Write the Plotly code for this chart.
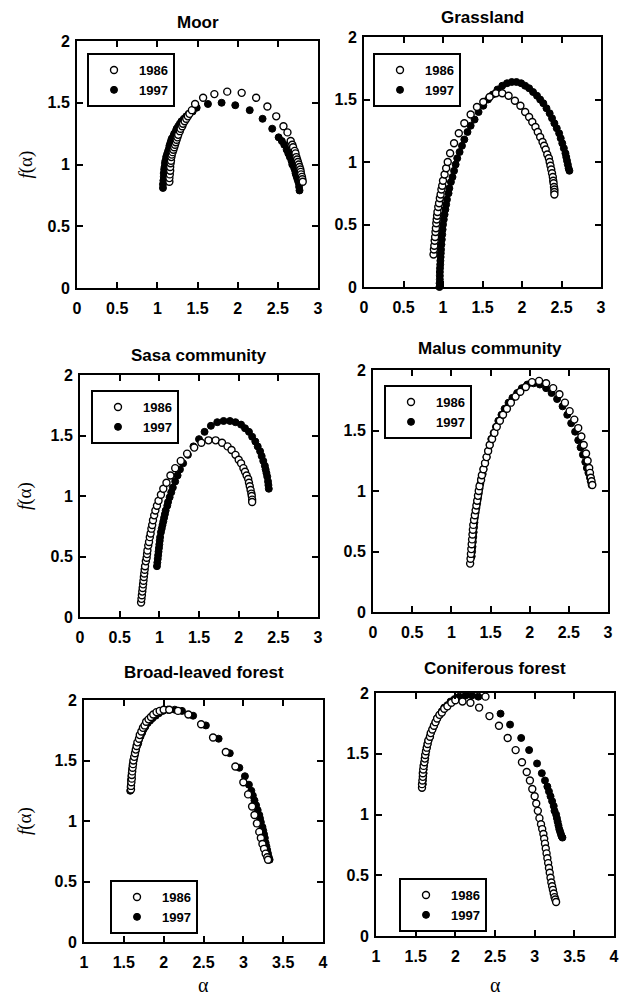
import plotly.graph_objects as go

W, H = 622, 995

# ---------------- data ----------------
titles = ["Moor", "Grassland", "Sasa community", "Malus community",
          "Broad-leaved forest", "Coniferous forest"]
series_names = ["1986", "1997"]
y_label = "<i>f</i>(α)"
x_label = "α"

ytick_vals = [0, 0.5, 1, 1.5, 2]
ytick_text = ["0", "0.5", "1", "1.5", "2"]
xtick_vals_a = [0, 0.5, 1, 1.5, 2, 2.5, 3]
xtick_text_a = ["0", "0.5", "1", "1.5", "2", "2.5", "3"]
xtick_vals_b = [1, 1.5, 2, 2.5, 3, 3.5, 4]
xtick_text_b = ["1", "1.5", "2", "2.5", "3", "3.5", "4"]

moor_a86 = [1.15, 1.15, 1.155, 1.16, 1.16, 1.165, 1.17, 1.175, 1.18, 1.19,
            1.20, 1.21, 1.22, 1.23, 1.24, 1.25, 1.26, 1.28, 1.29, 1.31,
            1.32, 1.34, 1.36, 1.38, 1.40, 1.43, 1.47, 1.57, 1.71, 1.87,
            2.05, 2.23, 2.37, 2.48, 2.57, 2.62, 2.66, 2.68, 2.69, 2.71,
            2.72, 2.73, 2.74, 2.75, 2.76, 2.77, 2.78, 2.785, 2.79, 2.80,
            2.805, 2.81]
moor_f86 = [0.86, 0.89, 0.92, 0.95, 0.98, 1.01, 1.03, 1.06, 1.08, 1.10,
            1.12, 1.14, 1.16, 1.18, 1.20, 1.22, 1.24, 1.27, 1.29, 1.31,
            1.33, 1.35, 1.37, 1.39, 1.41, 1.44, 1.49, 1.54, 1.57, 1.59,
            1.58, 1.54, 1.47, 1.39, 1.31, 1.26, 1.19, 1.16, 1.14, 1.11,
            1.09, 1.06, 1.04, 1.02, 1.00, 0.98, 0.96, 0.94, 0.92, 0.90,
            0.88, 0.86]
moor_a97 = [1.07, 1.07, 1.075, 1.08, 1.08, 1.085, 1.09, 1.095, 1.10, 1.11,
            1.12, 1.13, 1.14, 1.15, 1.16, 1.17, 1.18, 1.20, 1.21, 1.23,
            1.24, 1.26, 1.28, 1.30, 1.33, 1.36, 1.39, 1.44, 1.49, 1.63,
            1.80, 1.97, 2.15, 2.31, 2.43, 2.51, 2.55, 2.58, 2.61, 2.63,
            2.65, 2.67, 2.68, 2.70, 2.71, 2.72, 2.73, 2.74, 2.75, 2.76,
            2.765, 2.77]
moor_f97 = [0.81, 0.84, 0.87, 0.90, 0.93, 0.96, 0.98, 1.01, 1.03, 1.06,
            1.08, 1.10, 1.12, 1.15, 1.17, 1.19, 1.21, 1.23, 1.25, 1.27,
            1.29, 1.31, 1.33, 1.35, 1.37, 1.39, 1.41, 1.43, 1.46, 1.49,
            1.50, 1.48, 1.44, 1.37, 1.29, 1.22, 1.19, 1.16, 1.12, 1.09,
            1.06, 1.03, 1.00, 0.98, 0.96, 0.93, 0.91, 0.89, 0.87, 0.85,
            0.82, 0.79]

grass_a86 = [0.88, 0.885, 0.89, 0.895, 0.90, 0.905, 0.91, 0.915, 0.92, 0.925,
             0.93, 0.94, 0.95, 0.96, 0.97, 0.98, 0.99, 1.00, 1.02, 1.04,
             1.06, 1.09, 1.14, 1.20, 1.27, 1.35, 1.43, 1.51, 1.59, 1.67,
             1.75, 1.83, 1.91, 1.98, 2.04, 2.09, 2.13, 2.17, 2.20, 2.23,
             2.26, 2.28, 2.30, 2.32, 2.34, 2.35, 2.36, 2.37, 2.38, 2.39,
             2.395, 2.40, 2.405, 2.41, 2.41, 2.41]
grass_f86 = [0.26, 0.30, 0.33, 0.37, 0.40, 0.44, 0.47, 0.51, 0.54, 0.57,
             0.60, 0.64, 0.67, 0.71, 0.74, 0.78, 0.81, 0.85, 0.90, 0.95,
             1.00, 1.07, 1.15, 1.23, 1.31, 1.38, 1.44, 1.48, 1.52, 1.55,
             1.55, 1.53, 1.49, 1.45, 1.40, 1.36, 1.32, 1.28, 1.24, 1.20,
             1.16, 1.13, 1.10, 1.06, 1.03, 1.00, 0.97, 0.94, 0.91, 0.88,
             0.85, 0.83, 0.80, 0.78, 0.76, 0.74]
grass_a97 = [0.955, 0.957, 0.96, 0.96, 0.96, 0.962, 0.965, 0.967, 0.97, 0.972,
             0.975, 0.98, 0.985, 0.99, 0.995, 1.00, 1.01, 1.02, 1.03, 1.04,
             1.05, 1.07, 1.08, 1.10, 1.12, 1.14, 1.16, 1.18, 1.21, 1.24,
             1.27, 1.31, 1.35, 1.40, 1.45, 1.51, 1.57, 1.63, 1.69, 1.75,
             1.81, 1.87, 1.93, 1.99, 2.04, 2.09, 2.14, 2.19, 2.23, 2.27,
             2.31, 2.35, 2.38, 2.41, 2.44, 2.47, 2.49, 2.51, 2.53, 2.55,
             2.56, 2.57, 2.58, 2.59, 2.60]
grass_f97 = [0.00, 0.03, 0.06, 0.09, 0.12, 0.15, 0.18, 0.21, 0.24, 0.27,
             0.30, 0.34, 0.38, 0.42, 0.46, 0.50, 0.54, 0.58, 0.62, 0.66,
             0.70, 0.75, 0.79, 0.84, 0.88, 0.93, 0.98, 1.03, 1.08, 1.13,
             1.18, 1.24, 1.29, 1.34, 1.40, 1.45, 1.50, 1.54, 1.58, 1.61,
             1.63, 1.64, 1.64, 1.63, 1.61, 1.59, 1.56, 1.53, 1.50, 1.47,
             1.43, 1.39, 1.35, 1.31, 1.27, 1.23, 1.19, 1.15, 1.11, 1.07,
             1.04, 1.01, 0.98, 0.95, 0.93]

sasa_a86 = [0.77, 0.775, 0.78, 0.785, 0.79, 0.795, 0.80, 0.805, 0.81, 0.815,
            0.82, 0.83, 0.84, 0.845, 0.85, 0.86, 0.87, 0.88, 0.89, 0.90,
            0.91, 0.92, 0.935, 0.95, 0.97, 0.99, 1.02, 1.05, 1.09, 1.14,
            1.20, 1.27, 1.35, 1.44, 1.53, 1.62, 1.71, 1.79, 1.86, 1.91,
            1.96, 2.00, 2.03, 2.06, 2.08, 2.10, 2.12, 2.13, 2.14, 2.15,
            2.16, 2.165, 2.17, 2.17]
sasa_f86 = [0.12, 0.15, 0.18, 0.21, 0.24, 0.27, 0.30, 0.33, 0.36, 0.39,
            0.42, 0.46, 0.49, 0.52, 0.55, 0.59, 0.62, 0.66, 0.69, 0.73,
            0.76, 0.80, 0.84, 0.88, 0.92, 0.96, 1.01, 1.06, 1.11, 1.17,
            1.23, 1.29, 1.35, 1.40, 1.44, 1.46, 1.46, 1.44, 1.41, 1.38,
            1.34, 1.30, 1.27, 1.23, 1.20, 1.17, 1.14, 1.11, 1.08, 1.05,
            1.02, 1.00, 0.97, 0.95]
sasa_a97 = [0.97, 0.975, 0.98, 0.985, 0.99, 0.995, 1.00, 1.005, 1.01, 1.02,
            1.03, 1.04, 1.05, 1.06, 1.07, 1.08, 1.10, 1.11, 1.13, 1.15,
            1.17, 1.20, 1.23, 1.26, 1.30, 1.36, 1.43, 1.50, 1.57, 1.65,
            1.73, 1.81, 1.89, 1.96, 2.03, 2.08, 2.13, 2.17, 2.21, 2.24,
            2.27, 2.29, 2.31, 2.33, 2.34, 2.35, 2.36, 2.37, 2.375, 2.38]
sasa_f97 = [0.42, 0.45, 0.48, 0.51, 0.54, 0.57, 0.60, 0.63, 0.66, 0.70,
            0.73, 0.76, 0.79, 0.82, 0.85, 0.88, 0.92, 0.95, 0.99, 1.03,
            1.07, 1.12, 1.17, 1.22, 1.27, 1.34, 1.41, 1.47, 1.53, 1.58,
            1.61, 1.62, 1.62, 1.61, 1.59, 1.56, 1.53, 1.49, 1.45, 1.41,
            1.37, 1.33, 1.29, 1.25, 1.22, 1.19, 1.16, 1.12, 1.09, 1.06]

malus_a86 = [1.24, 1.245, 1.25, 1.255, 1.26, 1.265, 1.27, 1.275, 1.28, 1.29,
             1.30, 1.31, 1.32, 1.33, 1.34, 1.35, 1.36, 1.38, 1.39, 1.41,
             1.43, 1.45, 1.47, 1.49, 1.52, 1.55, 1.58, 1.62, 1.66, 1.71,
             1.76, 1.82, 1.88, 1.95, 2.03, 2.12, 2.21, 2.30, 2.38, 2.45,
             2.51, 2.57, 2.62, 2.66, 2.69, 2.72, 2.74, 2.76, 2.77, 2.78,
             2.79, 2.80]
malus_f86 = [0.40, 0.44, 0.48, 0.52, 0.56, 0.60, 0.64, 0.68, 0.72, 0.76,
             0.80, 0.84, 0.88, 0.92, 0.96, 1.00, 1.04, 1.09, 1.13, 1.18,
             1.23, 1.28, 1.33, 1.38, 1.43, 1.48, 1.53, 1.58, 1.63, 1.68,
             1.73, 1.78, 1.82, 1.86, 1.90, 1.91, 1.89, 1.85, 1.80, 1.73,
             1.66, 1.59, 1.52, 1.45, 1.38, 1.31, 1.25, 1.19, 1.15, 1.11,
             1.08, 1.05]
malus_a97 = [1.26, 1.265, 1.27, 1.275, 1.28, 1.285, 1.29, 1.295, 1.30, 1.31,
             1.32, 1.33, 1.34, 1.35, 1.36, 1.37, 1.38, 1.40, 1.41, 1.43,
             1.45, 1.47, 1.49, 1.51, 1.54, 1.57, 1.60, 1.64, 1.68, 1.73,
             1.78, 1.84, 1.90, 1.97, 2.05, 2.13, 2.21, 2.28, 2.35, 2.42,
             2.48, 2.53, 2.58, 2.62, 2.65, 2.68, 2.71, 2.73, 2.75, 2.77,
             2.78, 2.79]
malus_f97 = [0.46, 0.50, 0.54, 0.58, 0.62, 0.66, 0.70, 0.74, 0.78, 0.82,
             0.86, 0.90, 0.94, 0.98, 1.02, 1.06, 1.10, 1.14, 1.18, 1.23,
             1.28, 1.33, 1.38, 1.43, 1.48, 1.53, 1.58, 1.63, 1.68, 1.73,
             1.77, 1.81, 1.85, 1.88, 1.89, 1.88, 1.85, 1.81, 1.76, 1.70,
             1.63, 1.56, 1.49, 1.42, 1.36, 1.30, 1.24, 1.19, 1.15, 1.11,
             1.08, 1.05]

broad_a86 = [1.59, 1.59, 1.595, 1.60, 1.60, 1.605, 1.61, 1.615, 1.62, 1.63,
             1.64, 1.65, 1.66, 1.67, 1.69, 1.70, 1.72, 1.74, 1.76, 1.78,
             1.81, 1.84, 1.87, 1.91, 1.95, 2.00, 2.07, 2.18, 2.31, 2.47,
             2.62, 2.78, 2.90, 3.00, 3.06, 3.11, 3.14, 3.17, 3.20, 3.22,
             3.24, 3.26, 3.28, 3.30, 3.31]
broad_f86 = [1.26, 1.29, 1.32, 1.35, 1.38, 1.41, 1.44, 1.47, 1.50, 1.53,
             1.56, 1.59, 1.62, 1.65, 1.68, 1.71, 1.74, 1.77, 1.79, 1.82,
             1.84, 1.86, 1.88, 1.90, 1.91, 1.92, 1.92, 1.91, 1.88, 1.80,
             1.69, 1.57, 1.45, 1.32, 1.22, 1.12, 1.05, 0.98, 0.91, 0.86,
             0.81, 0.77, 0.73, 0.70, 0.68]
broad_a97 = [1.58, 1.585, 1.59, 1.59, 1.595, 1.60, 1.605, 1.61, 1.62, 1.63,
             1.64, 1.65, 1.66, 1.68, 1.69, 1.71, 1.73, 1.75, 1.77, 1.80,
             1.83, 1.86, 1.90, 1.94, 1.99, 2.05, 2.14, 2.23, 2.37, 2.53,
             2.69, 2.83, 2.95, 3.02, 3.07, 3.10, 3.12, 3.14, 3.16, 3.18,
             3.20, 3.21, 3.22, 3.24, 3.25, 3.26, 3.27, 3.28, 3.29, 3.30,
             3.31, 3.32, 3.33]
broad_f97 = [1.25, 1.28, 1.31, 1.34, 1.37, 1.40, 1.43, 1.46, 1.49, 1.52,
             1.55, 1.58, 1.61, 1.64, 1.67, 1.70, 1.73, 1.76, 1.78, 1.81,
             1.83, 1.85, 1.87, 1.89, 1.91, 1.92, 1.92, 1.91, 1.87, 1.79,
             1.68, 1.56, 1.44, 1.37, 1.30, 1.25, 1.21, 1.17, 1.13, 1.09,
             1.05, 1.02, 0.99, 0.95, 0.92, 0.89, 0.86, 0.82, 0.79, 0.76,
             0.73, 0.70, 0.68]

conif_a86 = [1.58, 1.58, 1.585, 1.59, 1.59, 1.595, 1.60, 1.61, 1.615, 1.62,
             1.63, 1.64, 1.65, 1.66, 1.68, 1.69, 1.71, 1.73, 1.75, 1.77,
             1.80, 1.83, 1.86, 1.90, 1.95, 2.00, 2.09, 2.19, 2.30, 2.38,
             2.43, 2.55, 2.66, 2.76, 2.84, 2.90, 2.94, 2.97, 3.00, 3.02,
             3.04, 3.06, 3.08, 3.095, 3.11, 3.12, 3.13, 3.14, 3.15, 3.16,
             3.17, 3.18, 3.19, 3.20, 3.21, 3.22, 3.23, 3.24, 3.25, 3.26,
             3.27]
conif_f86 = [1.22, 1.25, 1.28, 1.31, 1.34, 1.37, 1.40, 1.43, 1.46, 1.49,
             1.52, 1.55, 1.58, 1.61, 1.64, 1.67, 1.70, 1.73, 1.76, 1.79,
             1.82, 1.84, 1.87, 1.89, 1.92, 1.94, 1.93, 1.92, 1.88, 1.97,
             1.81, 1.73, 1.63, 1.53, 1.43, 1.35, 1.28, 1.21, 1.15, 1.09,
             1.03, 0.97, 0.92, 0.88, 0.84, 0.80, 0.76, 0.72, 0.68, 0.64,
             0.60, 0.56, 0.52, 0.48, 0.44, 0.41, 0.38, 0.35, 0.32, 0.30,
             0.28]
conif_a97 = [1.59, 1.59, 1.595, 1.60, 1.60, 1.605, 1.61, 1.62, 1.625, 1.63,
             1.64, 1.65, 1.66, 1.68, 1.69, 1.71, 1.73, 1.75, 1.77, 1.80,
             1.83, 1.86, 1.90, 1.94, 1.99, 2.05, 2.13, 2.21, 2.29, 2.57,
             2.69, 2.83, 2.93, 3.03, 3.09, 3.13, 3.16, 3.18, 3.20, 3.22,
             3.24, 3.25, 3.27, 3.28, 3.29, 3.30, 3.31, 3.32, 3.33, 3.34,
             3.35]
conif_f97 = [1.25, 1.28, 1.31, 1.34, 1.37, 1.40, 1.43, 1.46, 1.49, 1.52,
             1.55, 1.58, 1.61, 1.64, 1.67, 1.70, 1.73, 1.76, 1.79, 1.82,
             1.85, 1.88, 1.90, 1.93, 1.95, 1.97, 1.98, 1.98, 1.97, 1.83,
             1.74, 1.63, 1.53, 1.42, 1.34, 1.28, 1.23, 1.19, 1.15, 1.11,
             1.07, 1.03, 1.00, 0.97, 0.94, 0.91, 0.88, 0.86, 0.84, 0.82,
             0.81]

x_ranges = [[0, 3], [0, 3], [0, 3], [0, 3], [1, 4], [1, 4]]
y_range = [0, 2]

data = [
    (moor_a86, moor_f86, moor_a97, moor_f97),
    (grass_a86, grass_f86, grass_a97, grass_f97),
    (sasa_a86, sasa_f86, sasa_a97, sasa_f97),
    (malus_a86, malus_f86, malus_a97, malus_f97),
    (broad_a86, broad_f86, broad_a97, broad_f97),
    (conif_a86, conif_f86, conif_a97, conif_f97),
]

# ---------------- layout geometry (pixels) ----------------
boxes = [(77, 318, 41, 288), (364, 601, 37, 287), (80, 318, 375, 617),
         (373, 608, 370, 612), (84, 323, 700, 942), (376, 614, 693, 936)]
title_y = [22, 17, 355, 348, 672, 668]
legend_pos = [(87, 53), (373, 53), (91, 390), (384, 385), (110, 880), (399, 878)]
ylabel_x = 25
xlabel_y = 985

FONT = "Liberation Sans"
SERIF = "Liberation Serif"


def bold(lst):
    return ["<b>%s</b>" % s for s in lst]


fig = go.Figure()
layout = dict(width=W, height=H, margin=dict(l=0, r=0, t=0, b=0), template="none",
              paper_bgcolor="white", plot_bgcolor="white", showlegend=True)
annotations = []

for i in range(6):
    k = "" if i == 0 else str(i + 1)
    x0, x1, y0, y1 = boxes[i]
    a86, f86, a97, f97 = data[i]
    leg = "legend" + k
    fig.add_trace(go.Scatter(
        x=a97, y=f97, mode="markers", name=series_names[1], xaxis="x" + k, yaxis="y" + k,
        legend=leg, legendrank=2, cliponaxis=False,
        marker=dict(size=7, color="black", line=dict(color="black", width=1))))
    fig.add_trace(go.Scatter(
        x=a86, y=f86, mode="markers", name=series_names[0], xaxis="x" + k, yaxis="y" + k,
        legend=leg, legendrank=1, cliponaxis=False,
        marker=dict(size=7, color="white", line=dict(color="black", width=1.4))))

    axcommon = dict(showline=True, linewidth=2, linecolor="black", mirror="allticks",
                    ticks="inside", ticklen=6, tickwidth=2, tickcolor="black",
                    showgrid=False, zeroline=False, automargin=False,
                    tickfont=dict(family=FONT, size=16, color="black"))
    if i >= 4:
        xt_v, xt_t = xtick_vals_b, xtick_text_b
    else:
        xt_v, xt_t = xtick_vals_a, xtick_text_a
    xa = dict(axcommon, domain=[x0 / W, x1 / W], anchor="y" + k, range=x_ranges[i],
              tickmode="array", tickvals=xt_v, ticktext=bold(xt_t), ticklabelstandoff=5)
    ya = dict(axcommon, domain=[1 - y1 / H, 1 - y0 / H], anchor="x" + k, range=y_range,
              tickmode="array", tickvals=ytick_vals, ticktext=bold(ytick_text),
              ticklabelstandoff=2)
    layout["xaxis" + k] = xa
    layout["yaxis" + k] = ya

    if i % 2 == 0:
        annotations.append(dict(text=y_label, x=ylabel_x / W, y=1 - (y0 + y1) / 2 / H,
                                xref="paper", yref="paper", xanchor="center", yanchor="middle",
                                textangle=-90, showarrow=False,
                                font=dict(family=SERIF, size=19, color="black")))
    if i >= 4:
        annotations.append(dict(text=x_label, x=(x0 + x1) / 2 / W, y=1 - xlabel_y / H,
                                xref="paper", yref="paper", xanchor="center", yanchor="middle",
                                showarrow=False,
                                font=dict(family=SERIF, size=20, color="black")))

    lx, ly = legend_pos[i]
    layout[leg] = dict(x=lx / W, y=1 - ly / H, xanchor="left", yanchor="top",
                       bordercolor="black", borderwidth=2, bgcolor="white",
                       font=dict(family=FONT, size=13, color="black", weight="bold"),
                       tracegroupgap=0, itemwidth=40)

    annotations.append(dict(text="<b>%s</b>" % titles[i], x=(x0 + x1) / 2 / W, y=1 - title_y[i] / H,
                            xref="paper", yref="paper", xanchor="center", yanchor="middle",
                            showarrow=False,
                            font=dict(family=FONT, size=17, color="black")))

layout["annotations"] = annotations
fig.update_layout(**layout)
fig.write_html("out.html", config={"displayModeBar": False},
               post_script="document.body.style.margin='0px';")
